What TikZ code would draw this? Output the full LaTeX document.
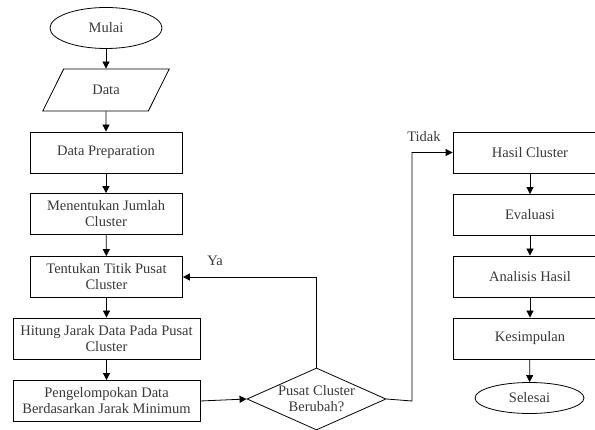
\documentclass[tikz,border=0pt]{standalone}
\usepackage{fontspec}
\setmainfont{Liberation Serif}
\usetikzlibrary{shapes.geometric,arrows.meta}
\begin{document}
\begin{tikzpicture}[x=1pt,y=-1pt,
  base/.style={draw=black,line width=0.8pt,text=black!78,font=\fontsize{14.5}{16}\selectfont,align=center,inner sep=1pt},
  proc/.style={base,rectangle,minimum width=#1,minimum height=41pt},
  proc/.default=152pt,
  term/.style={base,ellipse,minimum width=#1},
  io/.style={base,trapezium,trapezium left angle=58,trapezium right angle=122,trapezium stretches=true,minimum width=127pt,minimum height=42pt},
  dec/.style={base,diamond,minimum width=139pt,minimum height=62pt,aspect=2.24,inner sep=0pt},
  arr/.style={line width=0.8pt,-{Triangle[length=7pt,width=7pt]}},
  lbl/.style={text=black!78,font=\fontsize{14.5}{16}\selectfont,inner sep=0pt}]
\useasboundingbox (0,0) rectangle (595,430);
\clip (0,0) rectangle (595,430);
\node[term=112pt,minimum height=41pt] (mulai) at (106,28) {Mulai};
\node[io] (data) at (106,90) {Data};
\node[proc] (prep) at (106,152.5) {Data Preparation};
\node[proc] (jumlah) at (106,214) {Menentukan Jumlah\\Cluster};
\node[proc] (titik) at (106.5,277) {Tentukan Titik Pusat\\Cluster};
\node[proc=187pt] (hitung) at (106.5,338.5) {Hitung Jarak Data Pada Pusat\\Cluster};
\node[proc=187pt] (kelompok) at (106.5,401) {Pengelompokan Data\\Berdasarkan Jarak Minimum};
\node[dec] (pusat) at (316.5,399) {Pusat Cluster\\Berubah?};
\node[proc=154pt] (hasil) at (530,152.5) {Hasil Cluster};
\node[proc=154pt] (eval) at (530,215) {Evaluasi};
\node[proc=154pt] (analisis) at (530,276.5) {Analisis Hasil};
\node[proc=154pt] (kesimpulan) at (530,338.5) {Kesimpulan};
\node[term=109pt,minimum height=31pt] (selesai) at (529.5,398) {Selesai};
\draw[arr] (mulai) -- (data);
\draw[arr] (data) -- (prep);
\draw[arr] (prep) -- (jumlah);
\draw[arr] (jumlah) -- (titik);
\draw[arr] (titik) -- (hitung);
\draw[arr] (hitung) -- (kelompok);
\draw[arr] (kelompok.east) -- (pusat.west);
\draw[arr] (pusat.north) |- (titik.east);
\coordinate (bend) at (412,401);
\draw[arr] (pusat.east) -- (bend) |- (hasil.west);
\draw[arr] (hasil) -- (eval);
\draw[arr] (eval) -- (analisis);
\draw[arr] (analisis) -- (kesimpulan);
\draw[arr] (kesimpulan) -- (selesai);
\node[lbl] (ya) at (215,261) {Ya};
\node[lbl] (tidak) at (424,137) {Tidak};
\end{tikzpicture}
\end{document}
